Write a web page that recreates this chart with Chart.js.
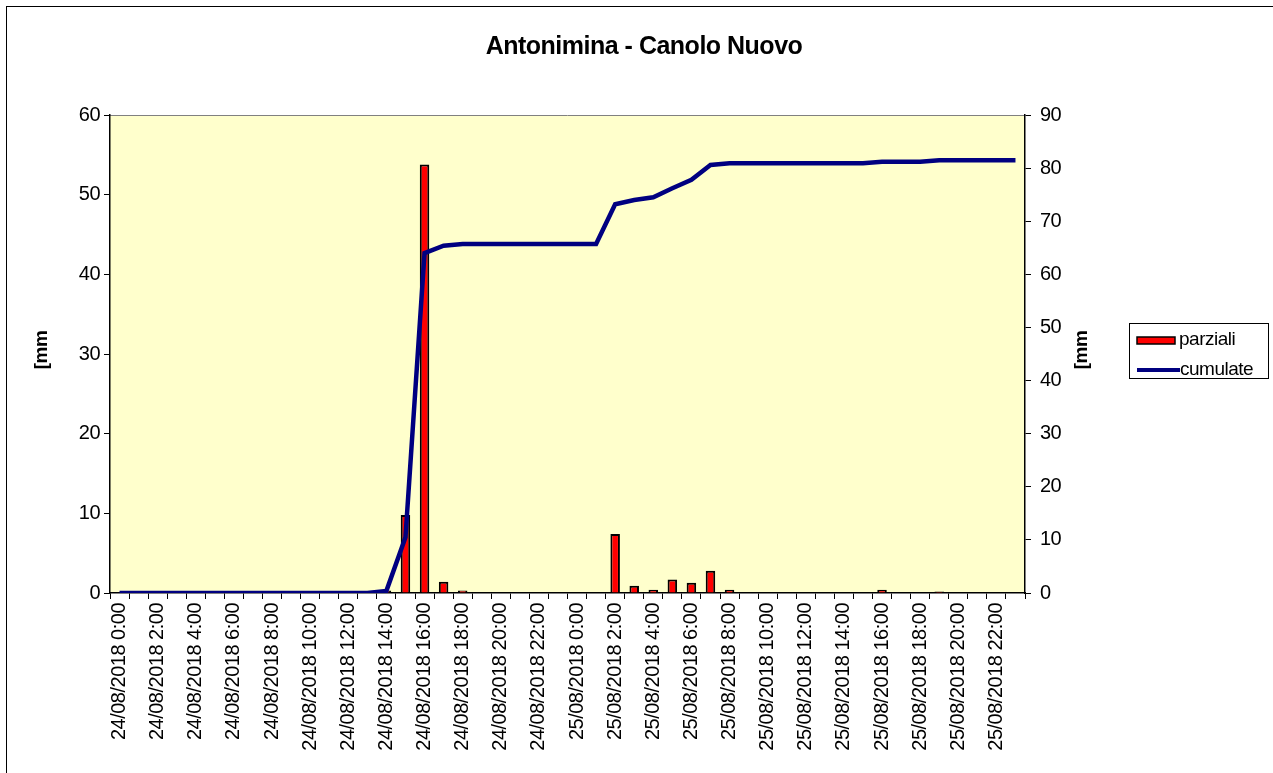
<!DOCTYPE html>
<html>
<head>
<meta charset="utf-8">
<script src="https://cdn.jsdelivr.net/npm/chart.js@4/dist/chart.umd.min.js"></script>
<style>
  html, body { margin: 0; padding: 0; background: #fff; overflow: hidden; }
  #frame {
    position: absolute;
    left: 6px;
    top: 6px;
    width: 1274px;
    height: 766px;
    border: 1px solid #000;
  }
  #chart { display: block; }
</style>
</head>
<body>
<div id="frame">
  <canvas id="chart" width="1274" height="766"></canvas>
</div>
<script>
const chartTitle = "Antonimina - Canolo Nuovo";
const axisTitle = "[mm";

const hours = [
  "24/08/2018 0:00", "24/08/2018 1:00", "24/08/2018 2:00", "24/08/2018 3:00",
  "24/08/2018 4:00", "24/08/2018 5:00", "24/08/2018 6:00", "24/08/2018 7:00",
  "24/08/2018 8:00", "24/08/2018 9:00", "24/08/2018 10:00", "24/08/2018 11:00",
  "24/08/2018 12:00", "24/08/2018 13:00", "24/08/2018 14:00", "24/08/2018 15:00",
  "24/08/2018 16:00", "24/08/2018 17:00", "24/08/2018 18:00", "24/08/2018 19:00",
  "24/08/2018 20:00", "24/08/2018 21:00", "24/08/2018 22:00", "24/08/2018 23:00",
  "25/08/2018 0:00", "25/08/2018 1:00", "25/08/2018 2:00", "25/08/2018 3:00",
  "25/08/2018 4:00", "25/08/2018 5:00", "25/08/2018 6:00", "25/08/2018 7:00",
  "25/08/2018 8:00", "25/08/2018 9:00", "25/08/2018 10:00", "25/08/2018 11:00",
  "25/08/2018 12:00", "25/08/2018 13:00", "25/08/2018 14:00", "25/08/2018 15:00",
  "25/08/2018 16:00", "25/08/2018 17:00", "25/08/2018 18:00", "25/08/2018 19:00",
  "25/08/2018 20:00", "25/08/2018 21:00", "25/08/2018 22:00", "25/08/2018 23:00"
];

// pioggia oraria [mm]
const parziali = [
  0, 0, 0, 0, 0, 0, 0, 0, 0, 0, 0, 0, 0, 0, 0.3, 9.8,
  53.8, 1.4, 0.3, 0, 0, 0, 0, 0, 0, 0, 7.4, 0.9, 0.4, 1.7, 1.3, 2.8,
  0.4, 0, 0, 0, 0, 0, 0, 0, 0.4, 0, 0, 0.2, 0, 0, 0, 0
];

// pioggia cumulata [mm]
const cumulate = [
  0, 0, 0, 0, 0, 0, 0, 0, 0, 0, 0, 0, 0, 0, 0.4, 10.5,
  64.0, 65.4, 65.7, 65.7, 65.7, 65.7, 65.7, 65.7, 65.7, 65.7, 73.2, 74.0, 74.5, 76.2, 77.8, 80.6,
  80.9, 80.9, 80.9, 80.9, 80.9, 80.9, 80.9, 80.9, 81.2, 81.2, 81.2, 81.5, 81.5, 81.5, 81.5, 81.5
];

const leftTicks = [0, 60, 10];   // min, max, step
const rightTicks = [0, 90, 10];

const FONT = "'Liberation Sans', Arial, sans-serif";

// tight Excel-like lettering + plot background + legend + axis titles
const excelLook = {
  id: "excelLook",
  beforeUpdate(chart) {
    chart.ctx.letterSpacing = "-0.5px";
  },
  beforeDraw(chart) {
    const ctx = chart.ctx;
    const a = chart.chartArea;
    ctx.letterSpacing = "-0.5px";
    ctx.save();
    ctx.fillStyle = "#FFFFCC";
    ctx.fillRect(a.left, a.top, a.right - a.left, a.bottom - a.top);
    ctx.strokeStyle = "#808080";
    ctx.lineWidth = 1;
    ctx.beginPath();
    ctx.moveTo(a.left, a.top + 0.5);
    ctx.lineTo(a.right, a.top + 0.5);
    ctx.stroke();
    ctx.restore();
  },
  afterDraw(chart) {
    const ctx = chart.ctx;
    ctx.save();
    ctx.fillStyle = "#000";
    ctx.font = "bold 19px " + FONT;
    ctx.textAlign = "center";
    ctx.textBaseline = "middle";
    [35, 1075].forEach((x) => {
      ctx.save();
      ctx.translate(x, 343);
      ctx.rotate(-Math.PI / 2);
      ctx.fillText(axisTitle, 0, 0);
      ctx.restore();
    });

    // legenda
    const bars = chart.data.datasets.find((d) => d.type === "bar");
    const line = chart.data.datasets.find((d) => d.type === "line");
    const lx = 1122, ly = 316;
    ctx.strokeStyle = "#000";
    ctx.lineWidth = 1;
    ctx.strokeRect(lx + 0.5, ly + 0.5, 139, 55);
    ctx.fillStyle = bars.backgroundColor;
    ctx.fillRect(lx + 8, ly + 14, 38, 7);
    ctx.lineWidth = 1.5;
    ctx.strokeRect(lx + 8, ly + 14, 38, 7);
    ctx.strokeStyle = line.borderColor;
    ctx.lineWidth = 4;
    ctx.beginPath();
    ctx.moveTo(lx + 8, ly + 47);
    ctx.lineTo(lx + 51, ly + 47);
    ctx.stroke();
    ctx.fillStyle = "#000";
    ctx.font = "19px " + FONT;
    ctx.textAlign = "left";
    ctx.fillText(bars.label, lx + 50, ly + 17);
    ctx.fillText(line.label, lx + 51, ly + 47);
    ctx.restore();
  }
};

new Chart(document.getElementById("chart"), {
  data: {
    labels: hours,
    datasets: [
      {
        type: "line",
        label: "cumulate",
        data: cumulate,
        yAxisID: "y2",
        borderColor: "#000080",
        borderWidth: 4.5,
        pointRadius: 0,
        tension: 0,
        fill: false,
        order: 0,
      },
      {
        type: "bar",
        label: "parziali",
        data: parziali,
        yAxisID: "y",
        backgroundColor: "#FF0000",
        borderColor: "#000000",
        borderWidth: 2,
        categoryPercentage: 0.5,
        barPercentage: 1,
        order: 1,
      },
    ],
  },
  options: {
    responsive: false,
    animation: false,
    layout: { padding: 0 },
    plugins: {
      legend: { display: false },
      tooltip: { enabled: false },
      title: {
        display: true,
        text: chartTitle,
        color: "#000",
        font: { family: FONT, size: 25, weight: "bold", lineHeight: 1.2 },
        padding: { top: 25, bottom: 53 },
      },
    },
    scales: {
      x: {
        type: "category",
        offset: true,
        afterFit(scale) { scale.height = 180; },
        grid: {
          offset: true,
          drawOnChartArea: false,
          color: "#000",
          tickLength: 6,
        },
        border: { display: true, color: "#000", width: 1.5 },
        ticks: {
          autoSkip: false,
          maxRotation: 90,
          minRotation: 90,
          padding: 4,
          color: "#000",
          font: { family: FONT, size: 20 },
          callback: (value, index) => (index % 2 === 0 ? hours[index] : ""),
        },
      },
      y: {
        position: "left",
        min: leftTicks[0],
        max: leftTicks[1],
        afterFit(scale) { scale.width = 103; },
        grid: { drawOnChartArea: false, color: "#000", tickLength: 6 },
        border: { display: true, color: "#000", width: 1.5 },
        ticks: {
          stepSize: leftTicks[2],
          padding: 4,
          color: "#000",
          font: { family: FONT, size: 20 },
        },
      },
      y2: {
        position: "right",
        min: rightTicks[0],
        max: rightTicks[1],
        afterFit(scale) { scale.width = 256; },
        grid: { drawOnChartArea: false, color: "#000", tickLength: 6 },
        border: { display: true, color: "#000", width: 1.5 },
        ticks: {
          stepSize: rightTicks[2],
          padding: 9,
          color: "#000",
          font: { family: FONT, size: 20 },
        },
      },
    },
  },
  plugins: [excelLook],
});
</script>
</body>
</html>
